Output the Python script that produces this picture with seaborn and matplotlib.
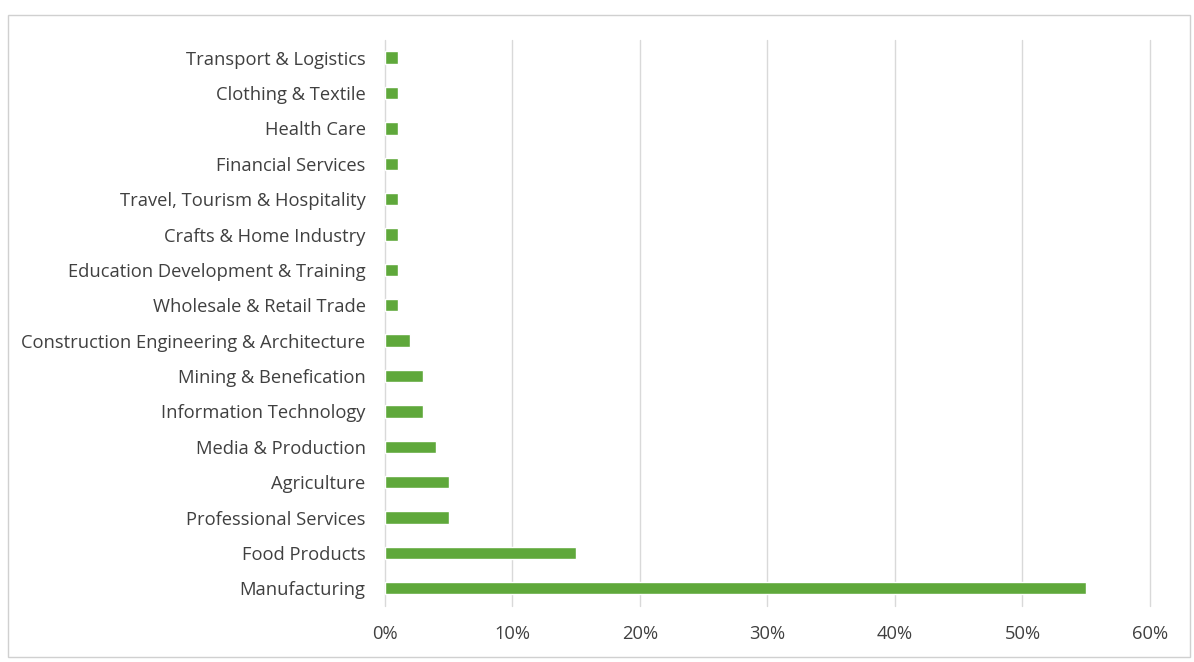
import matplotlib
matplotlib.use("Agg")
import matplotlib.pyplot as plt
from matplotlib.patches import Rectangle
from matplotlib.ticker import PercentFormatter
import seaborn as sns
import pandas as pd

sectors = [
    "Transport & Logistics",
    "Clothing & Textile",
    "Health Care",
    "Financial Services",
    "Travel, Tourism & Hospitality",
    "Crafts & Home Industry",
    "Education Development & Training",
    "Wholesale & Retail Trade",
    "Construction Engineering & Architecture",
    "Mining & Benefication",
    "Information Technology",
    "Media & Production",
    "Agriculture",
    "Professional Services",
    "Food Products",
    "Manufacturing",
]
shares = [1, 1, 1, 1, 1, 1, 1, 1, 2, 3, 3, 4, 5, 5, 15, 55]
x_ticks = [0, 10, 20, 30, 40, 50, 60]

df = pd.DataFrame({"sector": sectors, "share": shares})

sns.set_theme(style="white")
plt.rcParams["font.family"] = ["Open Sans", "DejaVu Sans"]

fig = plt.figure(figsize=(11.94, 6.62), dpi=100)
ax = fig.add_axes([0.3224, 0.0846, 0.6407, 0.855])

sns.barplot(data=df, x="share", y="sector", orient="h", color="#5fa83b",
            width=0.35, saturation=1, ax=ax)

ax.set_xlim(0, 60)
ax.set_xticks(x_ticks)
ax.xaxis.set_major_formatter(PercentFormatter(decimals=0))
ax.grid(axis="x", color="#d9d9d9", linewidth=1)
for gl in ax.get_xgridlines():
    gl.set_clip_on(False)
ax.set_axisbelow(True)
for s in ax.spines.values():
    s.set_visible(False)
ax.set_xlabel("")
ax.set_ylabel("")
ax.tick_params(axis="both", length=0, labelsize=13.2, colors="#404040")
ax.tick_params(axis="y", pad=14)
ax.tick_params(axis="x", pad=14)

# chart frame
fig.patches.append(Rectangle((0.007, 0.007), 0.99, 0.97, transform=fig.transFigure,
                             fill=False, edgecolor="#d0d0d0", linewidth=1))

fig.savefig("out.png", dpi=100, facecolor="white")
